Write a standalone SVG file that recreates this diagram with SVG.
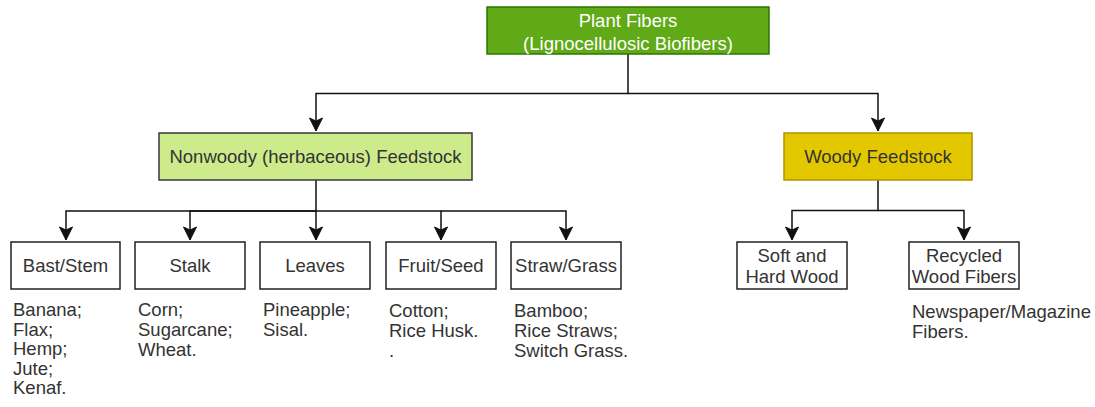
<svg xmlns="http://www.w3.org/2000/svg" width="1095" height="407" viewBox="0 0 1095 407">
<style>
text{font-family:"Liberation Sans",Arial,sans-serif;font-size:18.5px;fill:#333}
.c{text-anchor:middle}
.w{fill:#fff}
.box{fill:#fff;stroke:#222;stroke-width:1.5}
.edge{fill:none;stroke:#111;stroke-width:1.5}
</style>
<defs>
<marker id="arr" markerUnits="userSpaceOnUse" markerWidth="16" markerHeight="16" viewBox="-14 -8 16 16" refX="0" refY="0" orient="auto">
<path d="M0,0 L-13,-6.5 L-10,0 L-13,6.5 Z" fill="#111" stroke="#111" stroke-width="1"/>
</marker>
</defs>
<g id="connectors">
<path class="edge" d="M628,54 V93.5 H316 V131" marker-end="url(#arr)"/>
<path class="edge" d="M628,93.5 H878 V131" marker-end="url(#arr)"/>
<path class="edge" d="M316,180 V211 H66 V240" marker-end="url(#arr)"/>
<path class="edge" d="M316,211 H190 V240" marker-end="url(#arr)"/>
<path class="edge" d="M316,211 V240" marker-end="url(#arr)"/>
<path class="edge" d="M316,211 H441 V240" marker-end="url(#arr)"/>
<path class="edge" d="M441,211 H566 V240" marker-end="url(#arr)"/>
<path class="edge" d="M878,180 V210.5 H792 V240" marker-end="url(#arr)"/>
<path class="edge" d="M878,210.5 H964 V240" marker-end="url(#arr)"/>
</g>
<g id="plant-fibers">
<rect x="487" y="7" width="282" height="47" fill="#60a917" stroke="#2d7600" stroke-width="1.5"/>
<text class="c w" x="628" y="27">Plant Fibers</text>
<text class="c w" x="628" y="50">(Lignocellulosic Biofibers)</text>
</g>
<g id="nonwoody">
<rect x="159" y="133" width="313" height="47" fill="#cdeb8b" stroke="#36393d" stroke-width="1.5"/>
<text class="c" x="315.5" y="163">Nonwoody (herbaceous) Feedstock</text>
</g>
<g id="woody">
<rect x="784" y="133" width="188" height="47" fill="#e3c800" stroke="#b09500" stroke-width="1.5"/>
<text class="c" x="878" y="163">Woody Feedstock</text>
</g>
<g id="bast-stem">
<rect class="box" x="11" y="242" width="109" height="47"/>
<text class="c" x="65.5" y="272">Bast/Stem</text>
</g>
<g id="stalk">
<rect class="box" x="135" y="242" width="110" height="47"/>
<text class="c" x="190" y="272">Stalk</text>
</g>
<g id="leaves">
<rect class="box" x="260" y="242" width="110" height="47"/>
<text class="c" x="315" y="272">Leaves</text>
</g>
<g id="fruit-seed">
<rect class="box" x="386" y="242" width="110" height="47"/>
<text class="c" x="441" y="272">Fruit/Seed</text>
</g>
<g id="straw-grass">
<rect class="box" x="511" y="242" width="110" height="47"/>
<text class="c" x="566" y="272">Straw/Grass</text>
</g>
<g id="soft-hard-wood">
<rect class="box" x="737" y="242" width="110" height="47"/>
<text class="c" x="792" y="262">Soft and</text>
<text class="c" x="792" y="283">Hard Wood</text>
</g>
<g id="recycled-wood">
<rect class="box" x="909" y="242" width="110" height="47"/>
<text class="c" x="964" y="262">Recycled</text>
<text class="c" x="964" y="283">Wood Fibers</text>
</g>
<g id="bast-list">
<text x="13" y="316">Banana;</text>
<text x="13" y="335.5">Flax;</text>
<text x="13" y="355">Hemp;</text>
<text x="13" y="374.5">Jute;</text>
<text x="13" y="394">Kenaf.</text>
</g>
<g id="stalk-list">
<text x="138" y="316">Corn;</text>
<text x="138" y="336">Sugarcane;</text>
<text x="138" y="356">Wheat.</text>
</g>
<g id="leaves-list">
<text x="263" y="316">Pineapple;</text>
<text x="263" y="336">Sisal.</text>
</g>
<g id="fruit-list">
<text x="389" y="317">Cotton;</text>
<text x="389" y="337">Rice Husk.</text>
<text x="389" y="357">.</text>
</g>
<g id="straw-list">
<text x="514" y="317">Bamboo;</text>
<text x="514" y="337">Rice Straws;</text>
<text x="514" y="357">Switch Grass.</text>
</g>
<g id="recycled-list">
<text x="912" y="318">Newspaper/Magazine</text>
<text x="912" y="338">Fibers.</text>
</g>
</svg>
